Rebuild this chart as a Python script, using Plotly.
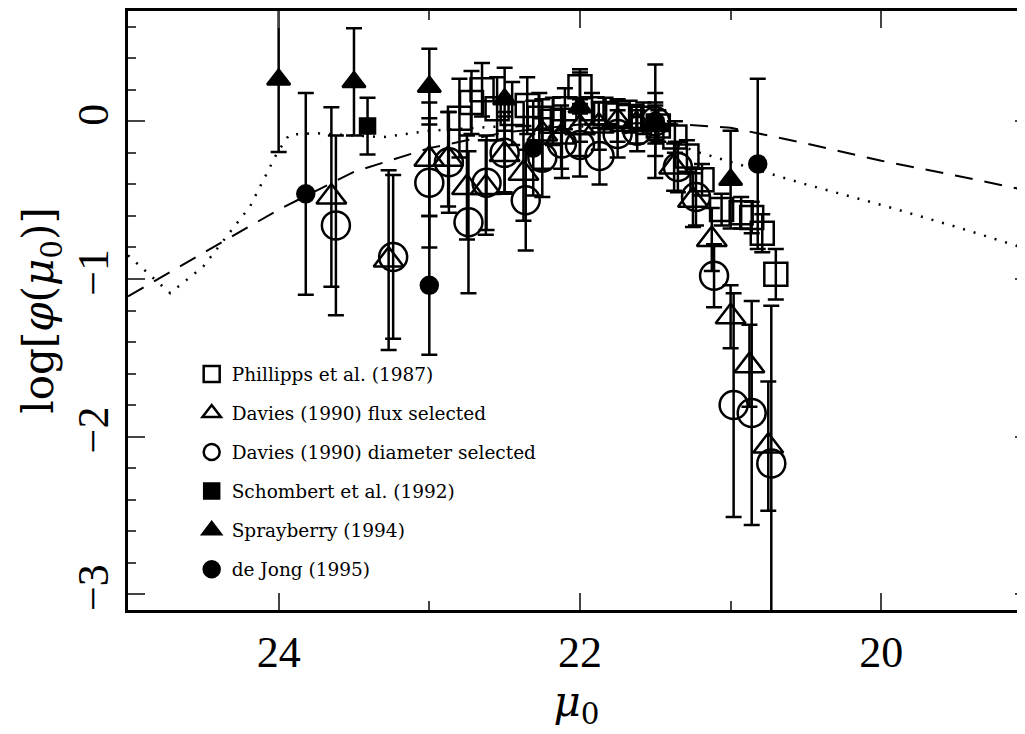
import plotly.graph_objects as go

# ---------------- data ----------------
# Phillipps et al. (1987) - open squares
phil_mu = [22.80, 22.72, 22.65, 22.55, 22.45, 22.35, 22.27, 22.18, 22.10, 22.00, 21.92, 21.83,
           21.75, 21.67, 21.58, 21.48, 21.37, 21.29, 21.19, 21.06, 20.93, 20.86, 20.79, 20.70]
phil_phi = [0.02, 0.12, 0.20, 0.08, 0.05, 0.10, 0.02, 0.00, 0.08, 0.22, 0.08, 0.05,
            0.04, 0.03, 0.02, -0.03, -0.10, -0.22, -0.37, -0.56, -0.58, -0.61, -0.71, -0.97]
phil_err = [0.25, 0.20, 0.17, 0.20, 0.20, 0.18, 0.16, 0.15, 0.13, 0.11, 0.10, 0.10,
            0.10, 0.10, 0.10, 0.10, 0.10, 0.10, 0.10, 0.10, 0.10, 0.10, 0.12, 0.16]

# Davies (1990) flux selected - open triangles
dflux_mu = [23.65, 23.27, 23.0, 22.875, 22.75, 22.625, 22.5, 22.375, 22.25, 22.125, 22.0,
            21.875, 21.75, 21.625, 21.5, 21.375, 21.25, 21.125, 21.0, 20.875, 20.75]
dflux_phi = [-0.48, -0.88, -0.24, -0.24, -0.42, -0.42, -0.21, -0.33, -0.08, -0.10, -0.04,
             -0.03, 0.00, -0.02, -0.02, -0.29, -0.50, -0.75, -1.24, -1.55, -2.06]
dflux_err = [0.57, 0.57, 0.36, 0.30, 0.33, 0.30, 0.24, 0.30, 0.22, 0.20, 0.18,
             0.15, 0.13, 0.12, 0.12, 0.15, 0.17, 0.20, 0.20, 0.26, 0.41]

# Davies (1990) diameter selected - open circles
ddiam_mu = [23.62, 23.24, 23.0, 22.87, 22.74, 22.62, 22.5, 22.36, 22.25, 22.12, 22.0,
            21.87, 21.75, 21.62, 21.5, 21.35, 21.23, 21.11, 20.98, 20.86, 20.73]
ddiam_phi = [-0.66, -0.86, -0.39, -0.26, -0.64, -0.39, -0.20, -0.50, -0.23, -0.14, -0.15,
             -0.22, -0.08, -0.06, 0.00, -0.29, -0.48, -0.98, -1.80, -1.85, -2.17]
ddiam_err = [0.57, 0.52, 0.41, 0.32, 0.45, 0.30, 0.26, 0.32, 0.25, 0.22, 0.20,
             0.18, 0.15, 0.13, 0.12, 0.16, 0.18, 0.20, 0.71, 0.71, 1.00]

# Schombert et al. (1992) - filled square
schom_mu = [23.41]
schom_phi = [-0.03]
schom_err = [0.18]

# Sprayberry (1994) - filled triangles
spray_mu = [24.0, 23.5, 23.0, 22.5, 22.0, 21.5, 21.0]
spray_phi = [0.265, 0.25, 0.22, 0.14, 0.09, -0.02, -0.37]
spray_err = [0.46, 0.34, 0.24, 0.20, 0.22, 0.20, 0.31]

# de Jong (1995) - filled circles
dejong_mu = [23.82, 23.0, 22.31, 21.5, 20.82]
dejong_phi = [-0.46, -1.04, -0.17, 0.0, -0.27]
dejong_err = [0.64, 0.44, 0.30, 0.36, 0.54]

# model curves
dash_mu = [25.0, 24.8, 24.5, 24.0, 23.5, 23.0, 22.5, 22.0, 21.5, 21.0, 20.5, 20.0, 19.5, 19.0]
dash_phi = [-1.11, -1.0, -0.83, -0.56, -0.32, -0.17, -0.07, -0.02, -0.01, -0.04, -0.14, -0.25, -0.345, -0.445]

dot_mu = [25.0, 24.72, 24.5, 24.33, 24.19, 24.1, 24.01, 23.93, 23.75, 23.5, 23.3, 23.0,
          22.5, 22.0, 21.5, 21.2, 20.5, 20.0, 19.5, 19.0]
dot_phi = [-0.85, -1.09, -0.92, -0.71, -0.54, -0.37, -0.20, -0.085, -0.075, -0.09, -0.10, -0.06,
           -0.03, -0.03, -0.10, -0.20, -0.40, -0.53, -0.67, -0.82]

# ---------------- figure ----------------
SERIF = "Liberation Serif"
WIDE = "DejaVu Serif"
fig = go.Figure()

fig.add_trace(go.Scatter(x=dash_mu, y=dash_phi, mode="lines", showlegend=False,
                         line=dict(color="black", width=2, dash="18px,12px"), hoverinfo="skip"))
fig.add_trace(go.Scatter(x=dot_mu, y=dot_phi, mode="lines", showlegend=False, yaxis="y2",
                         line=dict(color="black", width=2.5, dash="2px,9px"), hoverinfo="skip"))


def add_series(name, x, y, err, symbol, size):
    fig.add_trace(go.Scatter(
        x=x, y=y, mode="markers", name=name, legendgroup=name,
        marker=dict(symbol=symbol, size=size, color="black",
                    line=dict(color="black", width=2.5)),
        error_y=dict(type="data", array=err, visible=True, color="black",
                     thickness=2.5, width=8),
    ))


add_series("Phillipps et al. (1987)", phil_mu, phil_phi, phil_err, "square-open", 23)
add_series("Davies (1990) flux selected", dflux_mu, dflux_phi, dflux_err, "triangle-up-open", 26)
add_series("Davies (1990) diameter selected", ddiam_mu, ddiam_phi, ddiam_err, "circle-open", 28)
add_series("Schombert et al. (1992)", schom_mu, schom_phi, schom_err, "square", 15)
add_series("Sprayberry (1994)", spray_mu, spray_phi, spray_err, "triangle-up", 20)
add_series("de Jong (1995)", dejong_mu, dejong_phi, dejong_err, "circle", 17)

fig.update_layout(
    width=1017, height=726,
    margin=dict(l=120, r=0, t=3, b=124),
    paper_bgcolor="white", plot_bgcolor="white",
    font=dict(family=SERIF, color="black"),
    showlegend=True,
    legend=dict(x=0.071, y=0.425, xanchor="left", yanchor="top",
                bgcolor="rgba(0,0,0,0)", font=dict(family=WIDE, size=18.5, color="black"),
                traceorder="grouped", tracegroupgap=12),
    xaxis=dict(range=[25.0, 19.046], dtick=2, tick0=0, ticks="inside", ticklen=17, tickwidth=2,
               showline=True, linewidth=2.5, linecolor="black", mirror="ticks",
               showgrid=False, zeroline=False,
               minor=dict(ticks="inside", ticklen=9, tickwidth=2, dtick=1, tick0=0, showgrid=False),
               tickfont=dict(family=SERIF, size=44), ticklabelstandoff=1,
               title=dict(text="<i>μ</i><sub>0</sub>", font=dict(family=WIDE, size=42), standoff=10)),
    yaxis=dict(range=[-3.1, 0.7], dtick=1, tick0=0, ticks="inside", ticklen=17, tickwidth=2,
               showline=True, linewidth=2.5, linecolor="black", mirror=False,
               showgrid=False, zeroline=False, tickangle=-90,
               minor=dict(ticks="inside", ticklen=8, tickwidth=2, dtick=0.2, tick0=0, showgrid=False),
               tickfont=dict(family=SERIF, size=44), ticklabelstandoff=0,
               title=dict(text="log[<i>φ</i>(<i>μ</i><sub>0</sub>)]", font=dict(family=WIDE, size=42),
                          standoff=2)),
    yaxis2=dict(range=[-3.1, 0.7], overlaying="y", side="right", anchor="x",
                dtick=1, tick0=0, ticks="inside", ticklen=10, tickwidth=2,
                showline=False, showgrid=False, zeroline=False, showticklabels=False,
                minor=dict(ticks="inside", ticklen=2, tickwidth=2, dtick=0.2, tick0=0, showgrid=False)),
)

fig.write_html("out.html")
